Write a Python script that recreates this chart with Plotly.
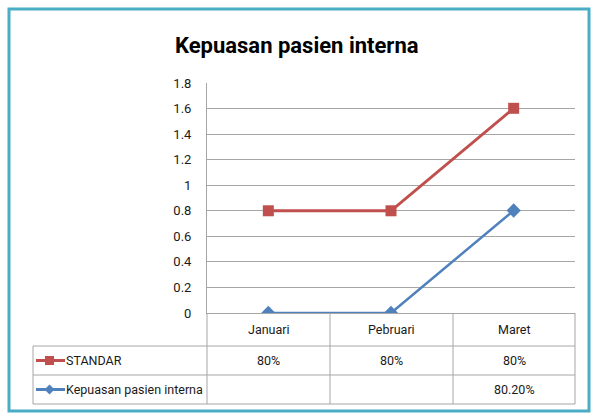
import plotly.graph_objects as go

categories = ["Januari", "Pebruari", "Maret"]
standar = [0.8, 0.8, 0.8]
kepuasan = [None, None, 0.802]
standar_labels = ["80%", "80%", "80%"]
kepuasan_labels = ["", "", "80.20%"]
y_ticks = [0, 0.2, 0.4, 0.6, 0.8, 1.0, 1.2, 1.4, 1.6, 1.8]
y_ticktext = ["0", "0.2", "0.4", "0.6", "0.8", "1", "1.2", "1.4", "1.6", "1.8"]

RED = "#C0504D"
BLUE = "#4F81BD"
GRID = "#A6A6A6"
FONT = "Roboto"
TXT = "#1a1a1a"

kep_plot = [v if v is not None else 0 for v in kepuasan]

fig = go.Figure()
fig.add_trace(go.Scatter(
    x=categories, y=kep_plot, name="Kepuasan pasien interna",
    mode="lines+markers", stackgroup="s", fill="none",
    line=dict(color=BLUE, width=2.5),
    marker=dict(symbol="diamond", size=11, color=BLUE),
))
fig.add_trace(go.Scatter(
    x=categories, y=standar, name="STANDAR",
    mode="lines+markers", stackgroup="s", fill="none",
    line=dict(color=RED, width=3),
    marker=dict(symbol="square", size=11, color=RED),
))

W, H = 592, 414
L, R, T, B = 207, 17, 83, 101
pw, ph = W - L - R, H - T - B

def px(x):
    return (x - L) / pw

def py(y):
    return (H - B - y) / ph

shapes = []
line_style = dict(color=GRID, width=1)
# outer frame
shapes.append(dict(type="rect", xref="paper", yref="paper",
                   x0=px(9), x1=px(589), y0=py(411), y1=py(9),
                   line=dict(color="#4BACC6", width=3)))
# table vertical lines
col_x = [207, 330, 453, 575]
for cx in col_x:
    shapes.append(dict(type="line", xref="paper", yref="paper",
                       x0=px(cx), x1=px(cx), y0=py(313), y1=py(404), line=line_style))
shapes.append(dict(type="line", xref="paper", yref="paper",
                   x0=px(33), x1=px(33), y0=py(346), y1=py(404), line=line_style))
for ry in [346, 375, 404]:
    shapes.append(dict(type="line", xref="paper", yref="paper",
                       x0=px(33), x1=px(575), y0=py(ry), y1=py(ry), line=line_style))

annotations = []
row_y = [329.5, 360.5, 389.5]
centers = [268.5, 391.5, 514]
tfont = dict(family=FONT, size=12.5, color=TXT)

def ann(x, y, text, xanchor="center", font=tfont):
    annotations.append(dict(x=px(x), y=py(y), xref="paper", yref="paper",
                            text=text, showarrow=False, xanchor=xanchor,
                            yanchor="middle", font=font))

for c, cat in zip(centers, categories):
    ann(c, row_y[0], cat)
for c, t in zip(centers, standar_labels):
    ann(c, row_y[1], t)
for c, t in zip(centers, kepuasan_labels):
    if t:
        ann(c, row_y[2], t)
# legend keys in table
for name, yy, col, sym in [("STANDAR", row_y[1], RED, "square"),
                           ("Kepuasan pasien interna", row_y[2], BLUE, "diamond")]:
    shapes.append(dict(type="line", xref="paper", yref="paper",
                       x0=px(36), x1=px(65), y0=py(yy), y1=py(yy),
                       line=dict(color=col, width=3)))
    if sym == "square":
        shapes.append(dict(type="rect", xref="paper", yref="paper",
                           x0=px(45), x1=px(54), y0=py(yy + 4.5), y1=py(yy - 4.5),
                           fillcolor=col, line=dict(width=0)))
    else:
        shapes.append(dict(type="path", xref="paper", yref="paper",
                           path=f"M {px(49.5)} {py(yy-5)} L {px(54.5)} {py(yy)} L {px(49.5)} {py(yy+5)} L {px(44.5)} {py(yy)} Z",
                           fillcolor=col, line=dict(width=0)))
    ann(64, yy, name, xanchor="left")

ann(297, 45, "<b>Kepuasan pasien interna</b>",
    font=dict(family=FONT, size=22, color="#000000"))

fig.update_layout(
    width=W, height=H,
    margin=dict(l=L, r=R, t=T, b=B),
    paper_bgcolor="white", plot_bgcolor="white",
    showlegend=False,
    shapes=shapes, annotations=annotations,
    xaxis=dict(showticklabels=False, ticks="", showgrid=False,
               showline=True, linecolor=GRID, linewidth=1, range=[-0.5, 2.5]),
    yaxis=dict(range=[0, 1.8], tickvals=y_ticks, ticktext=y_ticktext,
               showgrid=True, gridcolor=GRID, gridwidth=1,
               showline=True, linecolor=GRID, linewidth=1,
               ticks="", ticklabelstandoff=12,
               tickfont=dict(family=FONT, size=13, color=TXT),
               zeroline=False),
)
fig.write_html("out.html", config={"displayModeBar": False},
               post_script="document.body.style.margin='0';document.body.style.overflow='hidden';")
